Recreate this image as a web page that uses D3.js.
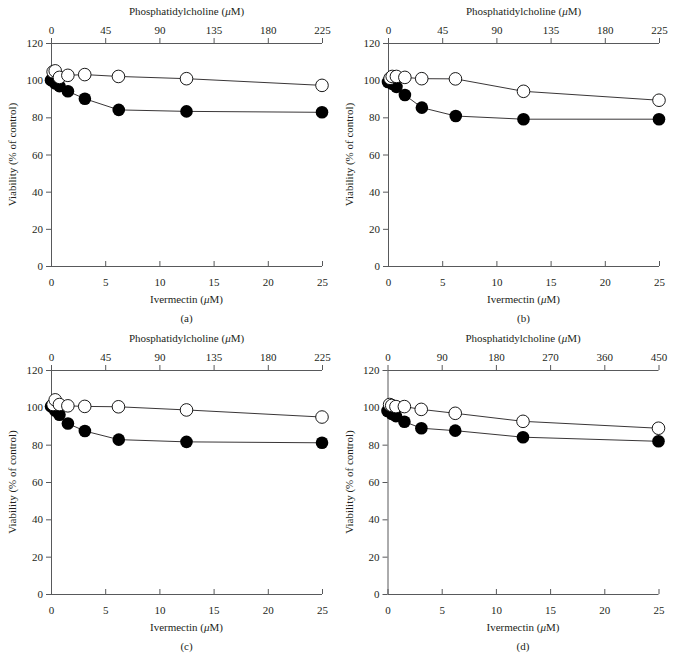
<!DOCTYPE html>
<html><head><meta charset="utf-8">
<script src="https://cdn.jsdelivr.net/npm/d3@7"></script>
<style>
html,body{margin:0;padding:0;background:#fff;}
svg text{font-family:"Liberation Serif","Times New Roman",serif;fill:#231f20;}
</style></head>
<body>
<svg id="chart" width="673" height="669"></svg>
<script>
// Data
const panelLabels = ["(a)", "(b)", "(c)", "(d)"];
const ivermectinConc = [0, 0.39, 0.78, 1.56, 3.125, 6.25, 12.5, 25];
const pcConcABC = [1.75, 3.5, 7, 14, 28, 56, 112.5, 225];
const pcConcD = [3.5, 7, 14, 28, 56, 112.5, 225, 450];
const pcMaxABC = 225, pcMaxD = 450;
const pcTicksABC = [0, 45, 90, 135, 180, 225];
const pcTicksD = [0, 90, 180, 270, 360, 450];
const ivmTicks = [0, 5, 10, 15, 20, 25];
const yTicks = [0, 20, 40, 60, 80, 100, 120];

const filledA = [100, 98.3, 96.8, 94, 90, 84, 83.2, 82.7];
const openA   = [104.5, 105, 101.5, 102.6, 103, 102, 100.8, 97.2];
const filledB = [99, 98, 96.4, 92, 85.2, 80.7, 79, 79];
const openB   = [101, 102, 102, 101.5, 100.8, 100.7, 94, 89.2];
const filledC = [100.5, 98.3, 96, 91.3, 87.3, 82.7, 81.5, 81];
const openC   = [101.5, 104, 101.5, 100.8, 100.5, 100.3, 98.6, 94.8];
const filledD = [98, 96.5, 95.3, 92.3, 88.8, 87.5, 84, 81.8];
const openD   = [101.5, 101, 100.4, 100.4, 98.9, 96.8, 92.5, 88.8];

const panels = [
  {label: panelLabels[0], filled: filledA, open: openA, pc: pcConcABC, pcMax: pcMaxABC, pcTicks: pcTicksABC, left: 51, right: 322, top: 43, bottom: 266},
  {label: panelLabels[1], filled: filledB, open: openB, pc: pcConcABC, pcMax: pcMaxABC, pcTicks: pcTicksABC, left: 388, right: 659, top: 43, bottom: 266},
  {label: panelLabels[2], filled: filledC, open: openC, pc: pcConcABC, pcMax: pcMaxABC, pcTicks: pcTicksABC, left: 51, right: 322, top: 370, bottom: 594},
  {label: panelLabels[3], filled: filledD, open: openD, pc: pcConcD, pcMax: pcMaxD, pcTicks: pcTicksD, left: 387.5, right: 658.5, top: 370, bottom: 594}
];

const svg = d3.select("#chart");
const axisColor = "#58595b";

panels.forEach(p => {
  const g = svg.append("g");
  const x = d3.scaleLinear().domain([0, 25]).range([p.left, p.right]);
  const xPC = d3.scaleLinear().domain([0, p.pcMax]).range([p.left, p.right]);
  const y = d3.scaleLinear().domain([0, 120]).range([p.bottom, p.top]);
  const cx = (p.left + p.right) / 2;

  // left axis
  const ya = g.append("g").attr("transform", `translate(${p.left},0)`)
    .call(d3.axisLeft(y).tickValues(yTicks).tickSize(5).tickPadding(3).tickFormat(d3.format("d")));
  // bottom axis (ticks pointing inward / up)
  const xa = g.append("g").attr("transform", `translate(0,${p.bottom})`)
    .call(d3.axisBottom(x).tickValues(ivmTicks).tickSizeInner(-5).tickSizeOuter(0).tickPadding(12).tickFormat(d3.format("d")));
  // top axis
  const ta = g.append("g").attr("transform", `translate(0,${p.top})`)
    .call(d3.axisTop(xPC).tickValues(p.pcTicks).tickSize(5).tickPadding(4).tickFormat(d3.format("d")));
  [ya, xa, ta].forEach(a => {
    a.selectAll("path,line").attr("stroke", axisColor).attr("stroke-width", 1);
    a.selectAll("text").attr("font-size", 11).attr("fill", "#231f20")
      .style("font-family", '"Liberation Serif","Times New Roman",serif');
  });
  xa.selectAll("text").attr("dy", "0.71em").attr("y", 12);
  ya.selectAll("path.domain").attr("d", `M0.5,${p.bottom}V${p.top}`);
  xa.selectAll("path.domain").attr("d", `M${p.left},0.5H${p.right}`);
  ta.selectAll("path.domain").attr("d", `M${p.left},0.5H${p.right}`);

  // axis titles
  const tt = g.append("text").attr("x", cx).attr("y", p.top - 28).attr("text-anchor", "middle").attr("font-size", 11);
  tt.append("tspan").text("Phosphatidylcholine (");
  tt.append("tspan").attr("font-style", "italic").text("μ");
  tt.append("tspan").text("M)");

  const bt = g.append("text").attr("x", cx).attr("y", p.bottom + 37).attr("text-anchor", "middle").attr("font-size", 11);
  bt.append("tspan").text("Ivermectin (");
  bt.append("tspan").attr("font-style", "italic").text("μ");
  bt.append("tspan").text("M)");

  g.append("text").attr("x", cx).attr("y", p.bottom + 56).attr("text-anchor", "middle").attr("font-size", 11).text(p.label);

  g.append("text").attr("transform", `translate(${p.left - 35},${(p.top + p.bottom) / 2}) rotate(-90)`)
    .attr("text-anchor", "middle").attr("font-size", 11).text("Viability (% of control)");

  // lines
  const filledPts = ivermectinConc.map((c, i) => [x(c), y(p.filled[i])]);
  const openPts = p.pc.map((c, i) => [xPC(c), y(p.open[i])]);
  const line = d3.line();
  g.append("path").attr("d", line(filledPts)).attr("fill", "none").attr("stroke", "#231f20").attr("stroke-width", 0.9);
  g.append("path").attr("d", line(openPts)).attr("fill", "none").attr("stroke", "#231f20").attr("stroke-width", 0.9);

  g.selectAll("circle.f").data(filledPts).join("circle").attr("class", "f")
    .attr("cx", d => d[0]).attr("cy", d => d[1]).attr("r", 6.3).attr("fill", "#000");
  g.selectAll("circle.o").data(openPts).join("circle").attr("class", "o")
    .attr("cx", d => d[0]).attr("cy", d => d[1]).attr("r", 6.3).attr("fill", "#fff").attr("stroke", "#000").attr("stroke-width", 0.9);
});
</script>
</body></html>
